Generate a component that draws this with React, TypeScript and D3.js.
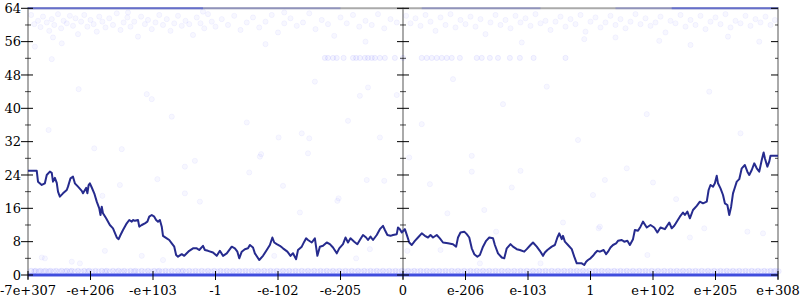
import React from "react";
import * as d3 from "d3";

const xTickLabels = ["-7e+307", "-e+206", "-e+103", "-1", "-e-102", "-e-205", "0", "e-206", "e-103", "1", "e+102", "e+205", "e+308"];
const xTickValues = [-6, -5, -4, -3, -2, -1, 0, 1, 2, 3, 4, 5, 6];
const yMajorTicks = [0, 8, 16, 24, 32, 40, 48, 56, 64];
const yMinorTicks = [4, 12, 20, 28, 36, 44, 52, 60];

// main series: [position, value]
const lineData: [number, number][] = [
  [-6.0, 25.0], [-5.86, 25.0], [-5.84, 22.4], [-5.78, 21.6], [-5.73, 22.0], [-5.7, 24.0], [-5.65, 24.8], [-5.62, 24.5],
  [-5.6, 22.4], [-5.57, 23.3], [-5.54, 22.1], [-5.52, 20.0], [-5.49, 18.8], [-5.44, 19.6], [-5.38, 20.4], [-5.36, 21.2],
  [-5.32, 23.2], [-5.28, 23.6], [-5.25, 22.0], [-5.2, 21.2], [-5.14, 20.2], [-5.12, 19.6], [-5.07, 20.9], [-5.05, 19.6],
  [-5.03, 21.6], [-5.01, 22.0], [-4.98, 21.0], [-4.94, 19.6], [-4.9, 17.6], [-4.86, 16.0], [-4.84, 14.4], [-4.82, 16.4],
  [-4.8, 14.8], [-4.75, 13.6], [-4.69, 12.0], [-4.64, 11.2], [-4.58, 9.0], [-4.55, 8.6], [-4.52, 9.6], [-4.48, 10.8],
  [-4.42, 12.4], [-4.38, 13.2], [-4.34, 12.8], [-4.32, 13.2], [-4.29, 13.0], [-4.24, 13.2], [-4.22, 11.6], [-4.18, 12.0],
  [-4.13, 12.4], [-4.09, 12.8], [-4.06, 14.0], [-4.02, 14.4], [-3.98, 14.0], [-3.95, 13.2], [-3.92, 12.8], [-3.89, 13.2],
  [-3.86, 11.6], [-3.84, 9.4], [-3.78, 8.8], [-3.74, 8.4], [-3.7, 7.6], [-3.66, 6.8], [-3.63, 4.8], [-3.6, 4.4],
  [-3.54, 5.0], [-3.5, 4.6], [-3.46, 5.2], [-3.42, 5.8], [-3.36, 6.4], [-3.3, 6.4], [-3.26, 6.0], [-3.2, 7.0],
  [-3.17, 6.0], [-3.12, 5.8], [-3.04, 5.4], [-2.98, 4.6], [-2.93, 5.8], [-2.88, 4.6], [-2.82, 5.2], [-2.74, 6.8],
  [-2.69, 6.4], [-2.65, 5.6], [-2.62, 4.0], [-2.58, 5.6], [-2.53, 6.2], [-2.48, 6.4], [-2.45, 7.2], [-2.4, 6.6],
  [-2.37, 5.2], [-2.3, 3.6], [-2.24, 4.6], [-2.18, 6.0], [-2.13, 7.2], [-2.09, 9.0], [-2.06, 7.8], [-2.02, 7.4],
  [-1.97, 7.0], [-1.92, 6.4], [-1.85, 5.6], [-1.8, 4.6], [-1.76, 5.2], [-1.71, 3.8], [-1.68, 6.0], [-1.62, 6.8],
  [-1.58, 8.0], [-1.55, 8.8], [-1.52, 8.4], [-1.46, 7.8], [-1.41, 8.8], [-1.37, 4.6], [-1.33, 6.8], [-1.28, 7.0],
  [-1.22, 7.8], [-1.17, 7.4], [-1.12, 6.6], [-1.06, 5.2], [-1.02, 6.4], [-0.96, 7.4], [-0.92, 9.0], [-0.88, 7.8],
  [-0.84, 8.8], [-0.78, 8.0], [-0.73, 7.4], [-0.69, 8.4], [-0.64, 9.6], [-0.59, 9.0], [-0.56, 8.4], [-0.52, 9.2],
  [-0.48, 8.4], [-0.42, 9.6], [-0.37, 11.0], [-0.32, 11.8], [-0.29, 10.8], [-0.25, 9.6], [-0.2, 9.4], [-0.16, 9.6],
  [-0.1, 9.8], [-0.08, 11.4], [-0.05, 11.0], [-0.02, 10.2], [0.03, 11.0], [0.07, 9.2], [0.1, 7.8], [0.14, 7.2],
  [0.19, 8.2], [0.24, 9.0], [0.3, 10.0], [0.35, 9.4], [0.4, 9.0], [0.44, 9.6], [0.48, 9.0], [0.54, 9.6],
  [0.59, 8.8], [0.64, 7.8], [0.72, 7.6], [0.8, 7.4], [0.85, 6.8], [0.88, 9.0], [0.92, 10.2], [0.98, 10.4],
  [1.02, 9.8], [1.06, 9.0], [1.1, 6.4], [1.14, 5.0], [1.19, 4.4], [1.23, 4.8], [1.28, 6.8], [1.33, 8.2],
  [1.38, 9.0], [1.44, 8.8], [1.47, 7.2], [1.52, 5.2], [1.58, 4.2], [1.62, 4.0], [1.66, 6.4], [1.72, 7.4],
  [1.76, 6.8], [1.82, 6.2], [1.87, 6.0], [1.94, 5.6], [1.98, 6.2], [2.04, 7.2], [2.08, 7.8], [2.14, 6.8],
  [2.19, 5.8], [2.24, 4.6], [2.27, 5.4], [2.31, 6.0], [2.38, 6.8], [2.43, 7.2], [2.47, 9.0], [2.5, 10.0],
  [2.54, 8.6], [2.56, 9.4], [2.59, 8.0], [2.64, 7.2], [2.7, 6.2], [2.74, 4.4], [2.78, 2.8], [2.86, 2.8],
  [2.9, 2.4], [2.93, 3.2], [2.96, 3.6], [3.0, 4.0], [3.04, 4.6], [3.07, 5.2], [3.11, 5.8], [3.15, 5.6],
  [3.21, 6.0], [3.25, 5.0], [3.28, 5.6], [3.32, 6.6], [3.36, 7.2], [3.41, 7.6], [3.44, 8.2], [3.5, 8.4],
  [3.54, 8.0], [3.59, 8.2], [3.63, 7.2], [3.68, 8.6], [3.71, 10.8], [3.76, 10.6], [3.8, 11.6], [3.84, 12.8],
  [3.9, 11.4], [3.96, 12.0], [4.02, 11.4], [4.07, 10.2], [4.12, 11.4], [4.19, 11.0], [4.26, 12.6], [4.3, 11.2],
  [4.34, 11.8], [4.39, 13.0], [4.43, 14.0], [4.48, 15.0], [4.51, 14.4], [4.55, 15.2], [4.59, 13.6], [4.64, 15.6],
  [4.7, 16.6], [4.75, 17.6], [4.8, 17.2], [4.86, 17.6], [4.89, 20.4], [4.92, 21.6], [4.96, 21.2], [4.99, 22.0],
  [5.02, 23.8], [5.04, 22.0], [5.08, 20.8], [5.12, 19.2], [5.15, 17.2], [5.19, 16.8], [5.22, 14.4], [5.25, 16.4],
  [5.28, 19.6], [5.31, 21.0], [5.34, 22.4], [5.38, 23.0], [5.42, 25.6], [5.47, 26.4], [5.51, 24.8], [5.54, 24.0],
  [5.58, 25.2], [5.62, 26.8], [5.66, 25.6], [5.7, 24.8], [5.74, 27.6], [5.77, 29.4], [5.79, 28.0], [5.83, 26.0],
  [5.86, 27.2], [5.88, 28.6], [6.0, 28.6],
];

// faint scatter near the top
const upperDots: [number, number][] = [
  [-5.95, 62.4], [-5.9, 60.2], [-5.84, 61.0], [-5.8, 59.5], [-5.76, 62.0], [-5.7, 60.6], [-5.66, 58.6], [-5.62, 61.4],
  [-5.58, 60.0], [-5.52, 62.6], [-5.47, 59.2], [-5.43, 61.0], [-5.38, 60.4], [-5.33, 62.2], [-5.28, 59.8], [-5.24, 61.6],
  [-5.2, 57.8], [-5.15, 60.8], [-5.1, 62.4], [-5.05, 59.6], [-5.0, 61.2], [-4.95, 60.2], [-4.9, 58.4], [-4.86, 62.0],
  [-4.81, 60.8], [-4.76, 59.4], [-4.7, 61.6], [-4.64, 60.0], [-4.58, 62.8], [-4.52, 58.8], [-4.47, 60.6], [-4.41, 61.8],
  [-4.36, 59.6], [-4.3, 60.8], [-4.24, 57.2], [-4.19, 62.0], [-4.13, 60.2], [-4.08, 61.2], [-4.02, 59.0], [-3.96, 60.6],
  [-3.9, 62.4], [-3.84, 60.0], [-3.78, 61.4], [-3.72, 58.6], [-3.66, 60.4], [-3.6, 62.2], [-3.54, 59.8], [-3.48, 61.0],
  [-3.42, 60.2], [-3.36, 57.6], [-3.3, 61.8], [-3.24, 60.4], [-3.18, 59.2], [-3.12, 62.6], [-3.06, 60.8], [-3.0, 59.6],
  [-2.9, 61.4], [-2.8, 60.0], [-2.7, 62.2], [-2.6, 58.8], [-2.5, 60.6], [-2.4, 61.8], [-2.3, 59.4], [-2.2, 60.8],
  [-2.1, 62.4], [-2.0, 58.2], [-1.9, 60.4], [-1.8, 61.6], [-1.7, 59.8], [-1.6, 60.6], [-1.5, 62.8], [-1.4, 59.0],
  [-1.3, 61.2], [-1.2, 60.2], [-1.1, 57.4], [-1.0, 61.8], [-0.9, 60.4], [-0.8, 62.4], [-0.7, 59.6], [-0.6, 61.0],
  [-0.5, 60.0], [-0.4, 62.6], [-0.3, 59.2], [-0.2, 61.4], [-0.1, 60.6], [-4.4, 63.0], [-3.2, 63.2], [-1.9, 63.0],
  [0.05, 62.2], [0.12, 60.4], [0.2, 61.6], [0.28, 59.8], [0.36, 62.4], [0.44, 60.8], [0.52, 58.6], [0.6, 61.8],
  [0.68, 60.0], [0.76, 62.6], [0.84, 59.4], [0.92, 61.2], [1.0, 60.2], [1.08, 62.0], [1.16, 59.6], [1.24, 61.4],
  [1.32, 57.8], [1.4, 60.6], [1.48, 62.4], [1.56, 60.0], [1.64, 61.2], [1.72, 59.2], [1.8, 62.2], [1.88, 60.6],
  [1.96, 61.6], [2.04, 59.8], [2.12, 62.6], [2.2, 60.4], [2.28, 61.0], [2.36, 58.8], [2.44, 60.8], [2.52, 62.0],
  [2.6, 59.6], [2.68, 61.4], [2.76, 60.2], [2.84, 62.4], [2.92, 58.4], [3.0, 60.8], [3.08, 61.8], [3.16, 59.4],
  [3.24, 60.6], [3.32, 62.2], [3.4, 60.0], [3.48, 61.4], [3.56, 59.2], [3.64, 60.8], [3.72, 62.6], [3.8, 60.2],
  [3.88, 61.6], [3.96, 59.8], [4.04, 60.6], [4.12, 62.0], [4.2, 58.2], [4.28, 61.0], [4.36, 60.4], [4.44, 62.4],
  [4.52, 59.6], [4.6, 61.2], [4.68, 60.0], [4.76, 62.2], [4.84, 59.0], [4.92, 60.8], [5.0, 61.8], [5.08, 60.2],
  [5.16, 62.6], [5.24, 59.4], [5.32, 61.0], [5.4, 60.4], [5.48, 62.2], [5.56, 59.8], [5.64, 61.4], [5.72, 60.6],
  [5.8, 62.0], [5.88, 60.0], [5.95, 61.2], [2.9, 56.6], [3.4, 57.0], [4.1, 56.2], [5.2, 57.2], [-5.6, 57.0],
  [-5.89, 54.8], [-5.62, 51.8], [-5.46, 55.6], [-2.2, 55.4], [-0.6, 56.0], [1.9, 55.8], [4.6, 55.2], [5.7, 56.0],
];

// row of dots near 52 in the middle
const rowDots: number[] = [
  -1.25, -1.2, -1.12, -1.06, -0.95, -0.8, -0.75, -0.69, -0.61, -0.56, -0.5, -0.45, -0.37, -0.29, -0.13, 0.0,
  0.3, 0.38, 0.46, 0.54, 0.62, 0.7, 0.78, 0.91, 1.18, 1.26, 1.39, 1.52, 1.71, 1.87, 2.09, 2.6,
];

// sparse dots in the open middle of the chart
const sparseDots: [number, number][] = [
  [-5.19, 44.6], [-4.1, 43.4], [-4.02, 42.2], [-5.67, 34.8], [-4.94, 30.4], [-4.5, 30.2], [-3.49, 26.0], [-3.33, 27.4],
  [-3.93, 23.0], [-4.53, 21.6], [-4.81, 19.0], [-2.5, 36.6], [-1.99, 33.0], [-2.27, 29.0], [-2.29, 28.4], [-2.46, 24.6],
  [-1.92, 21.4], [-1.62, 34.0], [-1.5, 32.8], [-1.52, 29.2], [-0.88, 37.0], [-0.69, 43.0], [-0.56, 45.0], [-0.1, 43.2],
  [-0.37, 33.0], [-0.58, 22.8], [-0.3, 22.6], [-1.41, 46.4], [-1.03, 18.4], [-5.78, 4.2], [-5.73, 4.0], [-5.3, 3.2],
  [-5.17, 2.8], [-4.77, 5.8], [-4.18, 4.6], [-3.84, 3.6], [-3.49, 19.6], [-3.25, 17.6], [-1.65, 15.0], [-1.05, 17.8],
  [-2.06, 4.6], [-0.75, 4.0], [-0.53, 6.2], [1.1, 28.6], [1.1, 24.8], [1.88, 25.0], [0.43, 21.8], [1.74, 21.0],
  [3.04, 19.2], [0.71, 14.8], [1.3, 15.6], [1.49, 10.4], [2.56, 12.6], [0.6, 6.0], [0.07, 5.8], [1.23, 2.8],
  [2.2, 2.8], [3.13, 11.2], [3.58, 25.6], [3.23, 22.8], [4.0, 22.2], [4.37, 18.2], [4.82, 11.2], [4.59, 9.0],
  [3.91, 4.8], [5.51, 10.4], [5.76, 10.0], [3.15, 11.6], [0.8, 47.0], [2.3, 45.2], [1.6, 41.0], [3.9, 38.6],
  [4.9, 44.0], [5.4, 34.0], [0.3, 36.2], [2.8, 32.4], [-3.7, 38.0], [0.1, 28.2],
];

// dense band of dots just above zero
const lowDots: number[] = [
  -5.95, -5.88, -5.8, -5.72, -5.64, -5.55, -5.46, -5.38, -5.3, -5.2, -5.1, -5.02, -4.92, -4.82, -4.74, -4.64,
  -4.55, -4.46, -4.36, -4.28, -4.18, -4.08, -3.98, -3.9, -3.8, -3.7, -3.6, -3.52, -3.42, -3.32, -3.22, -3.12,
  -3.02, -2.92, -2.82, -2.72, -2.62, -2.52, -2.42, -2.32, -2.22, -2.12, -2.02, -1.92, -1.82, -1.72, -1.62, -1.52,
  -1.42, -1.32, -1.22, -1.12, -1.02, -0.92, -0.82, -0.72, -0.62, -0.52, -0.42, -0.32, -0.22, -0.12, -0.02, 0.08,
  0.18, 0.28, 0.38, 0.48, 0.58, 0.68, 0.78, 0.88, 0.98, 1.08, 1.18, 1.28, 1.38, 1.48, 1.58, 1.68,
  1.78, 1.88, 1.98, 2.08, 2.18, 2.28, 2.38, 2.48, 2.58, 2.68, 2.78, 2.88, 2.98, 3.08, 3.18, 3.28,
  3.38, 3.48, 3.58, 3.68, 3.78, 3.88, 3.98, 4.08, 4.18, 4.28, 4.38, 4.48, 4.58, 4.68, 4.78, 4.88,
  4.98, 5.08, 5.18, 5.28, 5.38, 5.48, 5.58, 5.68, 5.78, 5.88, 5.96,
];

// saturated runs of overlapping dots, as [from, to] positions
const zeroRuns: [number, number][] = [[-6, 6]];
const topRunsLight: [number, number][] = [[-6, -1.0], [0.3, 2.2], [3.4, 6]];
const topRunsDark: [number, number][] = [[-6, -3.2], [4.3, 6]];

const W = 800;
const H = 300;

export default function App() {
  const x = d3.scaleLinear().domain([-6, 6]).range([28, 778]);
  const y = d3.scaleLinear().domain([0, 64]).range([275, 8.3]);
  const line = d3
    .line<[number, number]>()
    .x((d) => x(d[0]))
    .y((d) => y(d[1]))
    .curve(d3.curveLinear);
  const runPath = (r: [number, number], v: number) =>
    d3.line<number>().x((d) => x(d)).y(() => y(v))(r) || "";

  const dotFill = "#0000ff";
  const dotProps = { r: 2.6, fill: dotFill, fillOpacity: 0.03, stroke: dotFill, strokeOpacity: 0.05, strokeWidth: 0.8 };

  const axisGray = "#aaaaaa";
  const fontFamily = "'DejaVu Serif', serif";

  return (
    <svg
      width={W}
      height={H}
      style={{ position: "absolute", left: 0, top: 0, background: "#fff" }}
      fontFamily={fontFamily}
    >
      {/* frame lines */}
      <line x1={x(-6)} x2={x(6)} y1={y(64)} y2={y(64)} stroke={axisGray} strokeWidth={2} />
      <line x1={x(-6)} x2={x(6)} y1={y(0)} y2={y(0)} stroke={axisGray} strokeWidth={2} />
      {[-6, 0, 6].map((v) => (
        <line key={"ax" + v} x1={x(v)} x2={x(v)} y1={y(64) - 1} y2={y(0) + 4} stroke={axisGray} strokeWidth={2} />
      ))}

      {/* dots */}
      {upperDots.map((d, i) => (
        <circle key={"u" + i} cx={x(d[0])} cy={y(d[1])} {...dotProps} />
      ))}
      {rowDots.map((d, i) => (
        <circle key={"r" + i} cx={x(d)} cy={y(52.1)} {...dotProps} fillOpacity={0.045} strokeOpacity={0.08} />
      ))}
      {sparseDots.map((d, i) => (
        <circle key={"s" + i} cx={x(d[0])} cy={y(d[1])} {...dotProps} />
      ))}
      {lowDots.map((d, i) => (
        <circle key={"l" + i} cx={x(d)} cy={y(1.0)} {...dotProps} fillOpacity={0.06} strokeOpacity={0.1} />
      ))}
      {lowDots.map((d, i) => (
        <circle key={"l2" + i} cx={x(d + 0.05)} cy={y(0.9)} {...dotProps} fillOpacity={0.04} strokeOpacity={0.08} />
      ))}

      {topRunsLight.map((r, i) => (
        <path key={"tl" + i} d={runPath(r, 64)} stroke="#5560e0" strokeOpacity={0.3} strokeWidth={2} fill="none" />
      ))}
      {topRunsDark.map((r, i) => (
        <path key={"td" + i} d={runPath(r, 64)} stroke="#3344dd" strokeOpacity={0.45} strokeWidth={2} fill="none" />
      ))}
      {zeroRuns.map((r, i) => (
        <path key={"z" + i} d={runPath(r, 0)} stroke="#3a48e0" strokeOpacity={0.95} strokeWidth={3} fill="none" />
      ))}

      {/* main line */}
      <path d={line(lineData) || ""} fill="none" stroke="#262b8e" strokeWidth={2} strokeLinejoin="round" />

      {/* left axis ticks and labels */}
      {yMajorTicks.map((t) => (
        <g key={"ly" + t}>
          <line x1={x(-6) - 7} x2={x(-6) + 5} y1={y(t)} y2={y(t)} stroke="#000" strokeWidth={1} />
          <text x={x(-6) - 7} y={y(t)} dy="0.35em" textAnchor="end" fontSize={13} fill="#000">
            {t}
          </text>
          <line x1={x(0) - 6} x2={x(0) + 6} y1={y(t)} y2={y(t)} stroke="#000" strokeWidth={1} />
          <line x1={x(6) - 7} x2={x(6)} y1={y(t)} y2={y(t)} stroke="#000" strokeWidth={1} />
        </g>
      ))}
      {yMinorTicks.map((t) => (
        <g key={"my" + t}>
          <line x1={x(-6) - 3} x2={x(-6) + 3} y1={y(t)} y2={y(t)} stroke="#000" strokeOpacity={0.7} strokeWidth={1} />
          <line x1={x(0) - 3} x2={x(0) + 3} y1={y(t)} y2={y(t)} stroke="#000" strokeOpacity={0.7} strokeWidth={1} />
          <line x1={x(6) - 3} x2={x(6)} y1={y(t)} y2={y(t)} stroke="#000" strokeOpacity={0.7} strokeWidth={1} />
        </g>
      ))}

      {/* bottom axis ticks and labels */}
      {xTickValues.map((v, i) => (
        <g key={"bx" + v}>
          <line x1={x(v)} x2={x(v)} y1={y(0) - 4} y2={y(0) + 5} stroke="#000" strokeWidth={1} />
          <text x={x(v)} y={295} textAnchor="middle" fontSize={13} fill="#000">
            {xTickLabels[i]}
          </text>
        </g>
      ))}
    </svg>
  );
}
